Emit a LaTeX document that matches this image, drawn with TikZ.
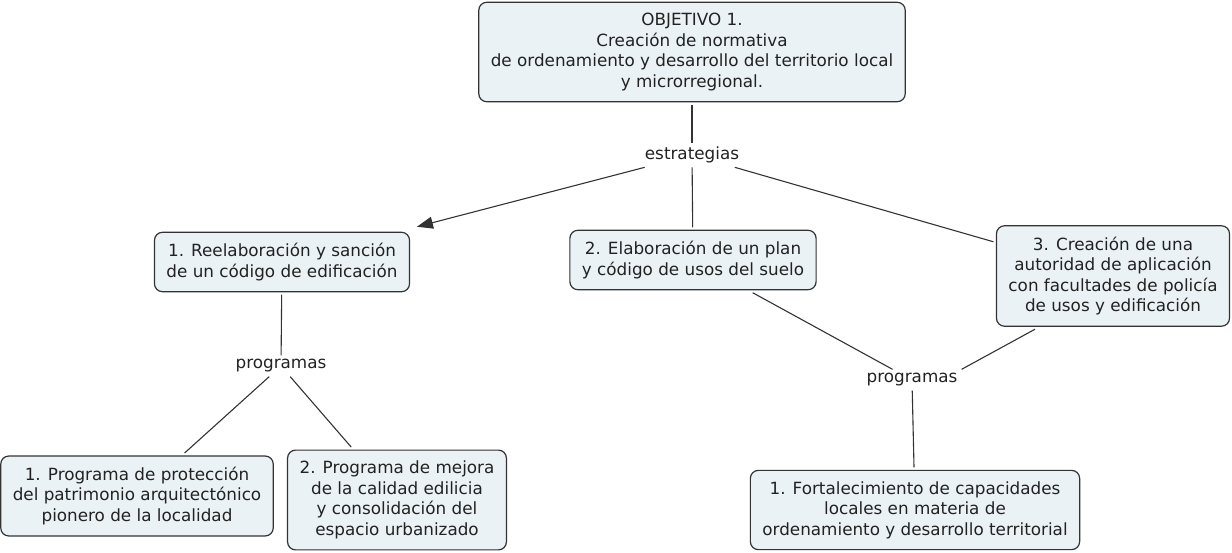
\documentclass[tikz,border=0pt]{standalone}
\usepackage{fontspec}
\setmainfont{DejaVu Sans}
\usetikzlibrary{arrows.meta}
\definecolor{boxfill}{HTML}{EBF2F6}
\definecolor{boxline}{HTML}{333333}
\definecolor{ink}{HTML}{222222}
\tikzset{
  concept/.style={draw=boxline, line width=1.2pt, fill=boxfill, rounded corners=8pt,
    align=center, inner xsep=12pt, inner ysep=11pt, outer sep=3pt, text=ink,
    font=\fontsize{16.8}{20.5}\selectfont},
  linkword/.style={inner sep=4pt, text=ink, font=\fontsize{16.8}{20.5}\selectfont},
  link/.style={draw=boxline, line width=1.1pt},
}
\begin{document}
\begin{tikzpicture}[x=1pt, y=-1pt]
	\useasboundingbox (0,0) rectangle (1232,553);

	\node[concept] (obj) at (692,52) {OBJETIVO 1.\\Creación de normativa\\de ordenamiento y desarrollo del territorio local\\y microrregional.};
	\node[linkword] (est) at (692,155) {estrategias};

	\node[concept] (s1) at (282,262) {1. Reelaboración y sanción\\de un código de edificación};
	\node[concept] (s2) at (693,260) {2. Elaboración de un plan\\y código de usos del suelo};
	\node[concept] (s3) at (1113,276) {3. Creación de una\\autoridad de aplicación\\con facultades de policía\\de usos y edificación};

	\node[linkword] (pl) at (281,366) {programas};
	\node[linkword] (pr) at (912,380) {programas};

	\node[concept] (p1) at (137,496) {1. Programa de protección\\del patrimonio arquitectónico\\pionero de la localidad};
	\node[concept] (p2) at (397,500) {2. Programa de mejora\\de la calidad edilicia\\y consolidación del\\espacio urbanizado};
	\node[concept] (f1) at (915,510) {1. Fortalecimiento de capacidades\\locales en materia de\\ordenamiento y desarrollo territorial};

	\draw[link] (obj) -- (est);
	\draw[link, -{Triangle[length=16pt,width=12pt]}, shorten >=10pt] (est) -- (s1);
	\draw[link] (est) -- (s2);
	\draw[link] (est) -- (s3);

	\draw[link] (s1) -- (pl);
	\draw[link] (pl) -- (p1);
	\draw[link] (pl) -- (p2);

	\draw[link] (s2) -- (pr);
	\draw[link] ([xshift=-78pt]s3.south) -- (pr.north east);
	\draw[link] (pr) -- (f1);
\end{tikzpicture}
\end{document}
